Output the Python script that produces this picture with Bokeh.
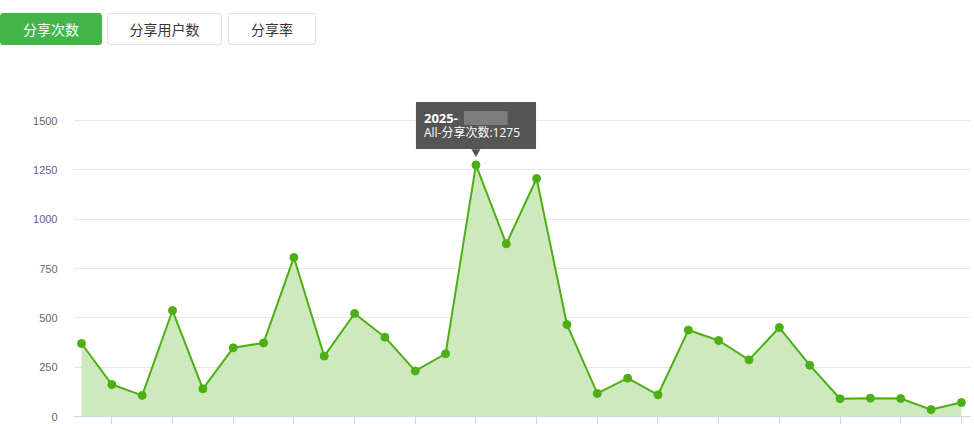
from bokeh.plotting import figure
from bokeh.layouts import column
from bokeh.models import Range1d, FixedTicker, Label, LinearAxis, Div
from bokeh.embed import file_html
from bokeh.resources import INLINE

# Daily share counts (分享次数), one value per day
days = list(range(30))
share_counts = [370, 162, 107, 537, 140, 348, 373, 806, 306, 522,
                402, 231, 318, 1275, 875, 1206, 466, 117, 194, 110,
                438, 385, 287, 451, 260, 90, 93, 91, 35, 71]
y_ticks = [0, 250, 500, 750, 1000, 1250, 1500]
x_ticks = [i for i in days if i % 2 == 1]
tabs = ["分享次数", "分享用户数", "分享率"]
highlight = 13

LINE = "#4caf14"
FILL = "#cde9bd"
TIP = "#555555"
CJK = "Noto Sans CJK SC"
MIXED = "Open Sans, Noto Sans CJK SC"

# ---- tab bar -------------------------------------------------------------
TAB_H = 60
tab_specs = [(0, 102, True), (107, 115, False), (228, 88, False)]
buttons = []
for name, (left, w, active) in zip(tabs, tab_specs):
    bg = "#44b549" if active else "#ffffff"
    fg = "#ffffff" if active else "#353535"
    bd = "#44b549" if active else "#e1e1e1"
    buttons.append(
        f'<div style="position:absolute;left:{left}px;top:13px;width:{w}px;'
        f'height:32px;box-sizing:border-box;border:1px solid {bd};'
        f'border-radius:3px;background:{bg};color:{fg};font-size:14px;'
        f'line-height:30px;text-align:center;">{name}</div>')
bar = Div(text=(f'<div style="position:relative;width:974px;height:{TAB_H}px;'
                f'font-family:\'{CJK}\';">' + "".join(buttons) + "</div>"),
          width=974, height=TAB_H, margin=(0, 0, 0, 0))

# ---- chart ---------------------------------------------------------------
units_per_px = 1500 / 296
y_top = 1500 + TAB_H * units_per_px

p = figure(width=974, height=424 - TAB_H, output_backend="svg", toolbar_location=None,
           x_range=Range1d(-0.264, 29.3), y_range=Range1d(0, y_top),
           min_border_top=0, min_border_left=73, min_border_right=4,
           min_border_bottom=0, x_axis_location=None, y_axis_location=None,
           margin=(0, 0, 0, 0))
p.outline_line_color = None

# value axis: labels only
yax = LinearAxis(ticker=FixedTicker(ticks=y_ticks))
yax.axis_line_color = None
yax.major_tick_line_color = None
yax.minor_tick_line_color = None
yax.major_tick_in = 0
yax.major_tick_out = 0
yax.major_label_standoff = 16
yax.major_label_text_font_size = "11px"
yax.major_label_text_color = "#666666"
yax.major_label_text_font = "Liberation Sans"
p.add_layout(yax, "left")

# category axis: line and tick marks on alternate days
xax = LinearAxis(ticker=FixedTicker(ticks=x_ticks))
xax.axis_line_color = "#ccd6eb"
xax.major_tick_line_color = "#ccd6eb"
xax.minor_tick_line_color = None
xax.major_tick_in = 0
xax.major_tick_out = 8
xax.major_label_standoff = 0
xax.major_label_overrides = {t: "" for t in x_ticks}
p.add_layout(xax, "below")

p.xgrid.visible = False
p.ygrid.ticker = FixedTicker(ticks=y_ticks)
p.ygrid.grid_line_color = "#e6e6e6"

p.varea(x=days, y1=0, y2=share_counts, fill_color=FILL, fill_alpha=1.0)
p.line(days, share_counts, line_color=LINE, line_width=2)
p.scatter(days, share_counts, size=8, fill_color=LINE, line_color=LINE)

# tooltip for the highlighted day
peak = share_counts[highlight]
p.scatter([highlight], [peak + 13 * units_per_px], marker="inverted_triangle",
          size=9, fill_color=TIP, line_color=None)
p.add_layout(Label(x=highlight, y=peak, x_offset=-60, y_offset=16,
                   text="All-分享次数:%d" % peak,
                   text_font=MIXED, text_font_size="12px", text_color="white",
                   background_fill_color=TIP, padding=(8, 16, 22, 8),
                   text_align="left", text_baseline="bottom"))
p.add_layout(Label(x=highlight, y=peak, x_offset=-52, y_offset=42,
                   text="2025-", text_font=MIXED, text_font_size="13px",
                   text_font_style="bold", text_color="white",
                   text_align="left", text_baseline="bottom"))
p.add_layout(Label(x=highlight, y=peak, x_offset=-12, y_offset=40,
                   text="00-00", text_font=MIXED, text_font_size="11px",
                   text_color="#7c7c7c", background_fill_color="#7c7c7c",
                   padding=(7, 8, 6, 0),
                   text_align="left", text_baseline="bottom"))

layout = column(bar, p, spacing=0)
open("out.html", "w").write(file_html(layout, INLINE))
